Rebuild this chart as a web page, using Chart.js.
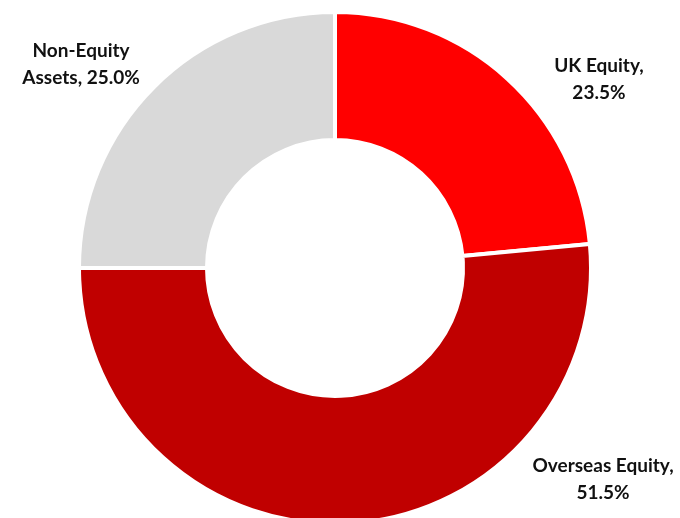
<!DOCTYPE html>
<html>
<head>
<meta charset="utf-8">
<script src="https://cdn.jsdelivr.net/npm/chart.js@4"></script>
<style>
  html, body { margin: 0; padding: 0; background: #fff; overflow: hidden; }
  #wrap { width: 680px; height: 518px; overflow: hidden; }
</style>
</head>
<body>
<div id="wrap"><canvas id="donut" width="680" height="536"></canvas></div>
<script>
const categories = ["UK Equity", "Overseas Equity", "Non-Equity Assets"];
const shares = [23.5, 51.5, 25.0];
const colours = ["#FF0000", "#C00000", "#D9D9D9"];

// label text lines and where they sit, as multiples of the outer radius from the centre
const labelLines = [
  ["UK Equity,", "23.5%"],
  ["Overseas Equity,", "51.5%"],
  ["Non-Equity", "Assets, 25.0%"]
];
const labelOffsets = [[1.031, -0.736], [1.047, 0.826], [-0.992, -0.795]];

const sideLabels = {
  id: "sideLabels",
  afterDatasetsDraw(chart) {
    const ctx = chart.ctx;
    const arcs = chart.getDatasetMeta(0).data;
    ctx.save();
    ctx.font = "bold 19px Lato, 'Open Sans', sans-serif";
    ctx.fillStyle = "#111";
    ctx.textAlign = "center";
    ctx.textBaseline = "middle";
    arcs.forEach((arc, i) => {
      const r = arc.outerRadius;
      const cx = arc.x + labelOffsets[i][0] * r;
      const cy = arc.y + labelOffsets[i][1] * r;
      const lines = labelLines[i];
      lines.forEach((t, j) => {
        ctx.fillText(t, cx, cy + (j - (lines.length - 1) / 2) * 27);
      });
    });
    ctx.restore();
  }
};

new Chart(document.getElementById("donut").getContext("2d"), {
  type: "doughnut",
  data: {
    labels: categories,
    datasets: [{
      data: shares,
      backgroundColor: colours,
      borderColor: "#fff",
      borderWidth: 4
    }]
  },
  options: {
    responsive: false,
    animation: false,
    cutout: "50%",
    layout: { padding: { top: 10, bottom: 10, left: 0, right: 10 } },
    plugins: { legend: { display: false }, tooltip: { enabled: false } }
  },
  plugins: [sideLabels]
});
</script>
</body>
</html>
